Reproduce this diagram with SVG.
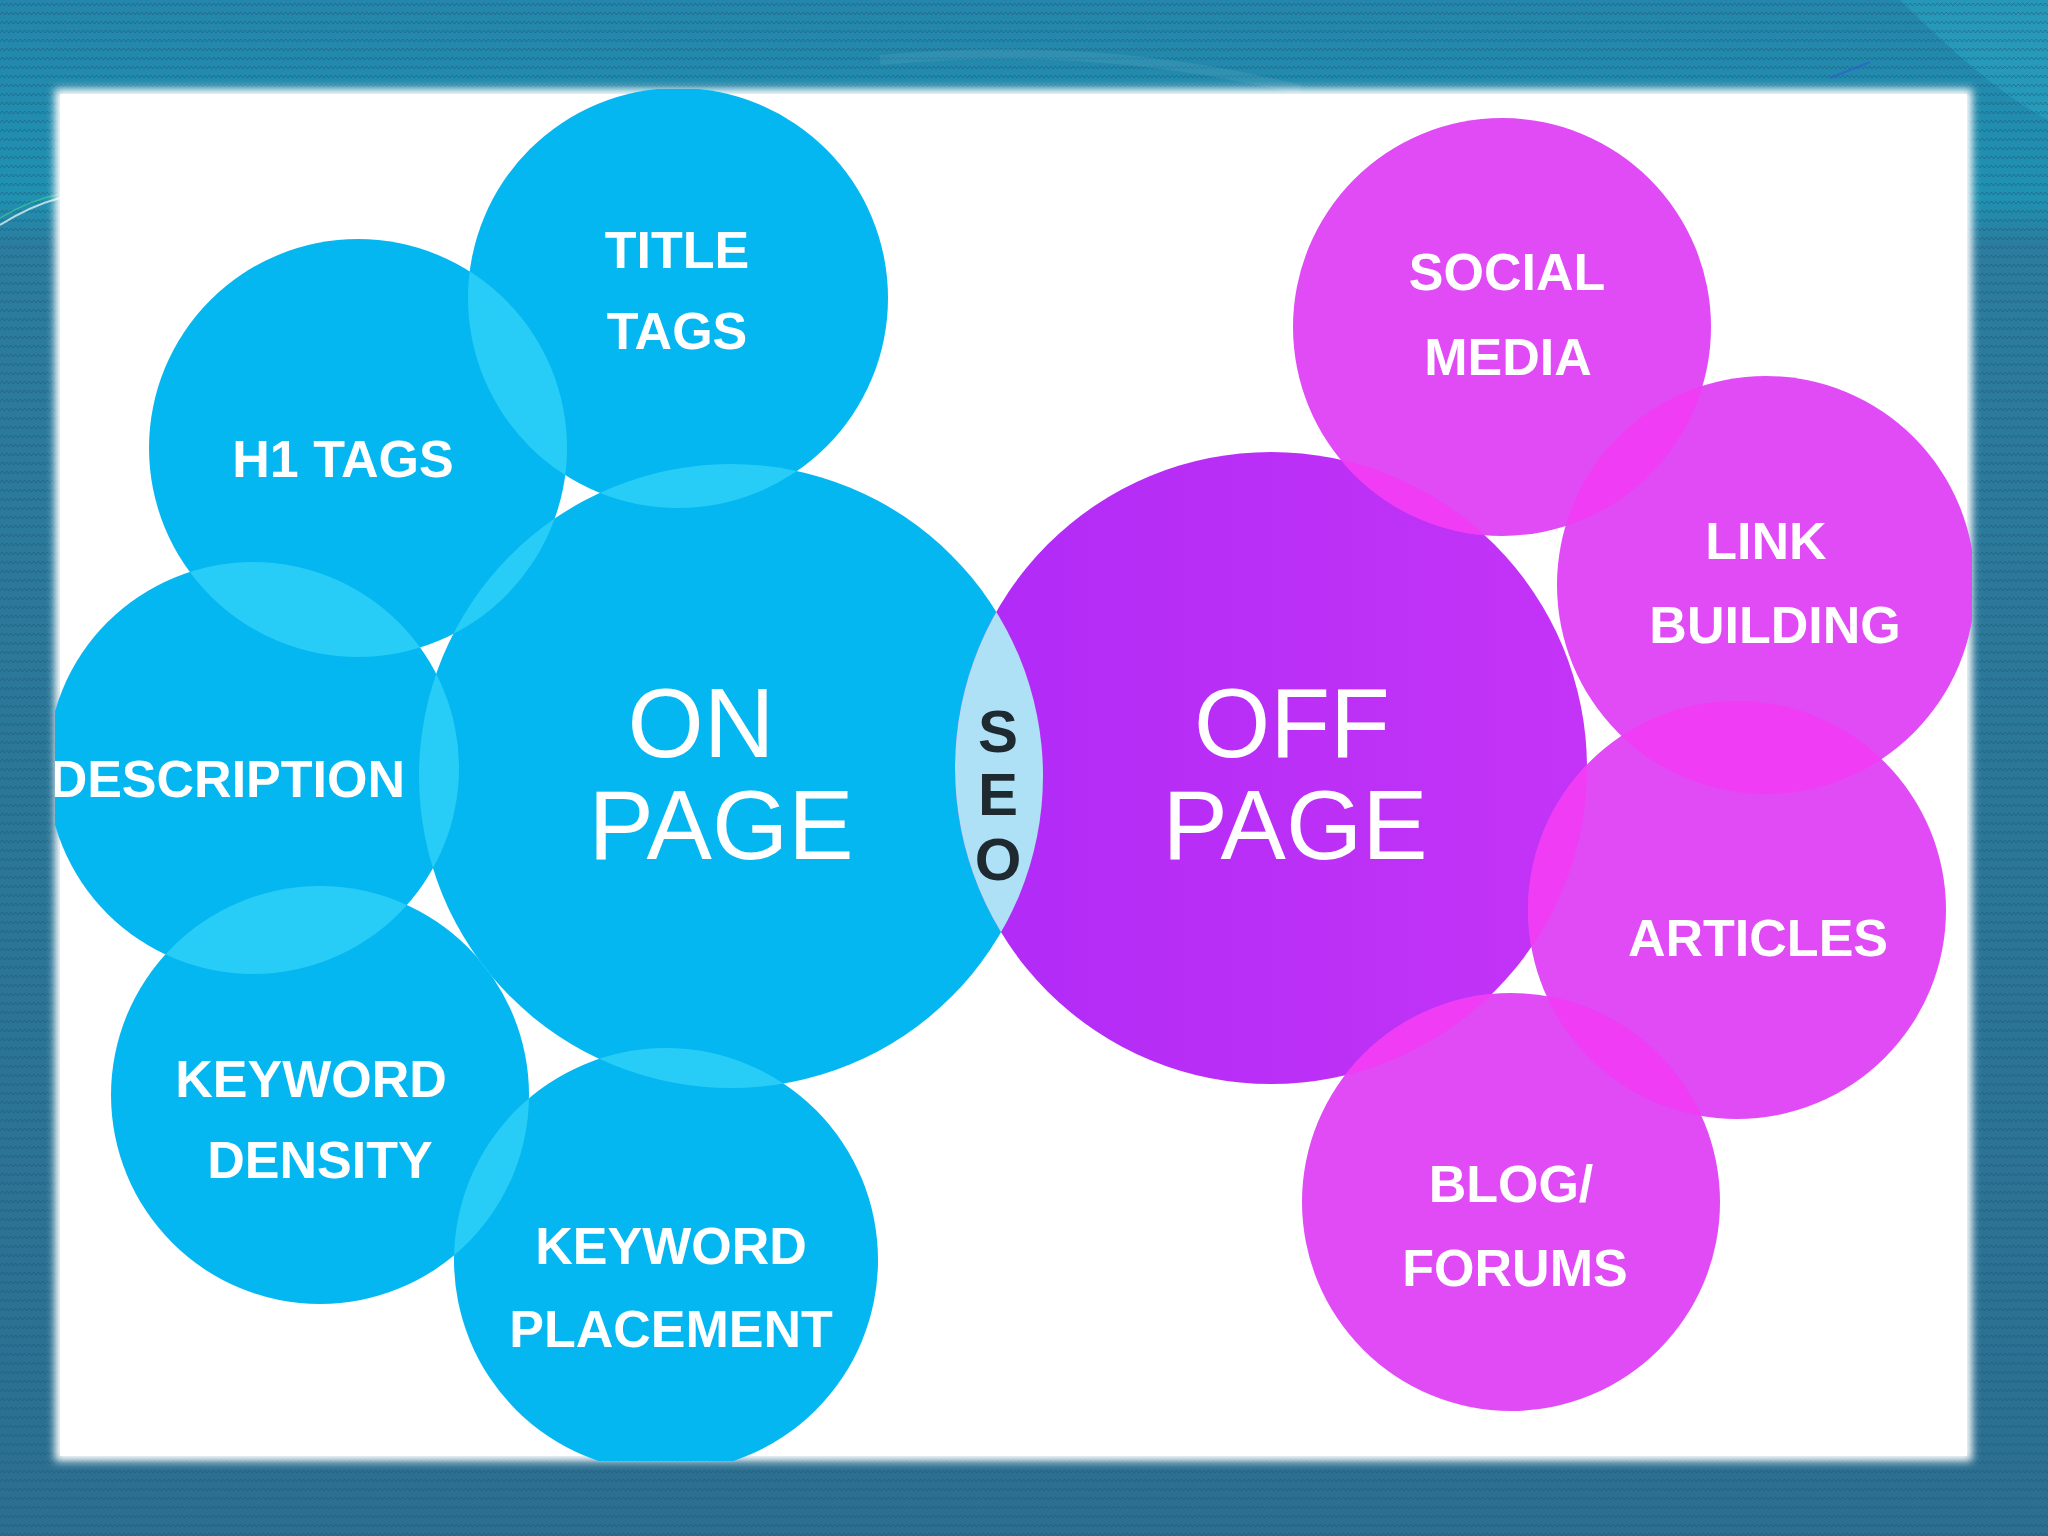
<svg xmlns="http://www.w3.org/2000/svg" width="2048" height="1536" viewBox="0 0 2048 1536">
  <defs>
    <linearGradient id="bg" x1="0" y1="0" x2="0" y2="1">
      <stop offset="0" stop-color="#2486aa"/>
      <stop offset="0.13" stop-color="#2091b1"/>
      <stop offset="0.16" stop-color="#2b7c9e"/>
      <stop offset="1" stop-color="#2c6f90"/>
    </linearGradient>
    <pattern id="zig" width="9" height="9" patternUnits="userSpaceOnUse">
      <path d="M0 6 L2.25 3 L4.5 6 L6.75 3 L9 6" fill="none" stroke="#174f70" stroke-width="1" stroke-opacity="0.45"/>
    </pattern>
    <linearGradient id="offg" x1="0" y1="0" x2="1" y2="0">
      <stop offset="0" stop-color="#b02af6"/>
      <stop offset="1" stop-color="#c434f7"/>
    </linearGradient>
    <filter id="soft" x="-5%" y="-5%" width="110%" height="110%">
      <feGaussianBlur stdDeviation="4"/>
    </filter>
    <clipPath id="panel"><rect x="55" y="89" width="1917" height="1372"/></clipPath>
    <clipPath id="cOn"><circle cx="731" cy="776" r="312"/></clipPath>
    <clipPath id="cOff"><circle cx="1271" cy="768" r="316"/></clipPath>
    <clipPath id="cTitle"><circle cx="678" cy="298" r="210"/></clipPath>
    <clipPath id="cH1"><circle cx="358" cy="448" r="209"/></clipPath>
    <clipPath id="cDesc"><circle cx="253" cy="768" r="206"/></clipPath>
    <clipPath id="cDens"><circle cx="320" cy="1095" r="209"/></clipPath>
    <clipPath id="cSoc"><circle cx="1502" cy="327" r="209"/></clipPath>
    <clipPath id="cLink"><circle cx="1766" cy="585" r="209"/></clipPath>
    <clipPath id="cArt"><circle cx="1737" cy="910" r="209"/></clipPath>
    <style>
      .blue { fill: #05b7f1; }
      .bov { fill: #27cdf6; }
      .pink { fill: #e04bf6; }
      .pov { fill: #f03cf4; }
      .lbl { font-family: "Liberation Sans", Arial, sans-serif; font-weight: bold; font-size: 52px; fill: #ffffff; text-anchor: middle; }
      .big { font-family: "Liberation Sans", Arial, sans-serif; font-weight: normal; font-size: 98px; fill: #ffffff; text-anchor: middle; }
      .seo { font-family: "Liberation Sans", Arial, sans-serif; font-weight: bold; font-size: 60px; fill: #1e2a30; text-anchor: middle; }
    </style>
  </defs>

  <!-- background -->
  <rect x="0" y="0" width="2048" height="1536" fill="url(#bg)"/>
  <path d="M1900 0 L2048 0 L2048 120 Q1990 90 1900 0 Z" fill="#2aa3c2" opacity="0.6"/>
  <rect x="0" y="0" width="2048" height="1536" fill="url(#zig)"/>
  <path d="M0 225 Q30 206 60 198" fill="none" stroke="#d8f0f0" stroke-width="2" opacity="0.8"/>
  <path d="M0 218 Q30 200 60 194" fill="none" stroke="#3fd29a" stroke-width="1.5" opacity="0.6"/>
  <path d="M1830 78 L1870 62" fill="none" stroke="#2f5fd0" stroke-width="2" opacity="0.7"/>
  <path d="M880 60 Q1100 40 1300 90" fill="none" stroke="#5aa6bf" stroke-width="10" opacity="0.25"/>

  <!-- white panel -->
  <rect x="55" y="89" width="1917" height="1372" fill="#ffffff" filter="url(#soft)"/>
  <rect x="60" y="94" width="1907" height="1362" fill="#ffffff"/>

  <g clip-path="url(#panel)">
    <!-- ON PAGE side -->
    <g id="on-page">
      <circle class="blue" cx="731" cy="776" r="312"/>
    </g>
    <g id="title-tags">
      <circle class="blue" cx="678" cy="298" r="210"/>
    </g>
    <g id="h1-tags">
      <circle class="blue" cx="358" cy="448" r="209"/>
    </g>
    <g id="description">
      <circle class="blue" cx="253" cy="768" r="206"/>
    </g>
    <g id="keyword-density">
      <circle class="blue" cx="320" cy="1095" r="209"/>
    </g>
    <g id="keyword-placement">
      <circle class="blue" cx="666" cy="1260" r="212"/>
    </g>

    <!-- blue overlaps -->
    <g id="blue-overlaps">
      <circle class="bov" cx="678" cy="298" r="210" clip-path="url(#cOn)"/>
      <circle class="bov" cx="358" cy="448" r="209" clip-path="url(#cOn)"/>
      <circle class="bov" cx="253" cy="768" r="206" clip-path="url(#cOn)"/>
      <circle class="bov" cx="320" cy="1095" r="209" clip-path="url(#cOn)"/>
      <circle class="bov" cx="666" cy="1260" r="212" clip-path="url(#cOn)"/>
      <circle class="bov" cx="358" cy="448" r="209" clip-path="url(#cTitle)"/>
      <circle class="bov" cx="253" cy="768" r="206" clip-path="url(#cH1)"/>
      <circle class="bov" cx="320" cy="1095" r="209" clip-path="url(#cDesc)"/>
      <circle class="bov" cx="666" cy="1260" r="212" clip-path="url(#cDens)"/>
    </g>

    <!-- OFF PAGE side -->
    <g id="off-page">
      <circle cx="1271" cy="768" r="316" fill="url(#offg)"/>
    </g>
    <g id="social-media">
      <circle class="pink" cx="1502" cy="327" r="209"/>
    </g>
    <g id="link-building">
      <circle class="pink" cx="1766" cy="585" r="209"/>
    </g>
    <g id="articles">
      <circle class="pink" cx="1737" cy="910" r="209"/>
    </g>
    <g id="blog-forums">
      <circle class="pink" cx="1511" cy="1202" r="209"/>
    </g>

    <g id="pink-overlaps">
      <circle class="pov" cx="1502" cy="327" r="209" clip-path="url(#cOff)"/>
      <circle class="pov" cx="1766" cy="585" r="209" clip-path="url(#cOff)"/>
      <circle class="pov" cx="1737" cy="910" r="209" clip-path="url(#cOff)"/>
      <circle class="pov" cx="1511" cy="1202" r="209" clip-path="url(#cOff)"/>
      <circle class="pov" cx="1766" cy="585" r="209" clip-path="url(#cSoc)"/>
      <circle class="pov" cx="1737" cy="910" r="209" clip-path="url(#cLink)"/>
      <circle class="pov" cx="1511" cy="1202" r="209" clip-path="url(#cArt)"/>
    </g>

    <!-- SEO lens -->
    <g id="seo">
      <circle cx="1271" cy="768" r="316" fill="#aee1f5" clip-path="url(#cOn)"/>
      <text class="seo" x="998" y="752">S</text>
      <text class="seo" x="998" y="815">E</text>
      <text class="seo" x="998" y="880">O</text>
    </g>

    <!-- labels -->
    <g id="labels">
      <text class="big" x="701" y="757">ON</text>
      <text class="big" x="721" y="859">PAGE</text>
      <text class="big" x="1292" y="757">OFF</text>
      <text class="big" x="1295" y="859">PAGE</text>

      <text class="lbl" x="677" y="268">TITLE</text>
      <text class="lbl" x="677" y="349">TAGS</text>
      <text class="lbl" x="343" y="477">H1 TAGS</text>
      <text class="lbl" x="405" y="797" style="text-anchor:end">DESCRIPTION</text>
      <text class="lbl" x="311" y="1097">KEYWORD</text>
      <text class="lbl" x="320" y="1178">DENSITY</text>
      <text class="lbl" x="671" y="1264">KEYWORD</text>
      <text class="lbl" x="671" y="1347">PLACEMENT</text>

      <text class="lbl" x="1507" y="290">SOCIAL</text>
      <text class="lbl" x="1508" y="375">MEDIA</text>
      <text class="lbl" x="1766" y="559">LINK</text>
      <text class="lbl" x="1775" y="643">BUILDING</text>
      <text class="lbl" x="1758" y="956">ARTICLES</text>
      <text class="lbl" x="1511" y="1202">BLOG/</text>
      <text class="lbl" x="1515" y="1286">FORUMS</text>
    </g>
  </g>
</svg>
